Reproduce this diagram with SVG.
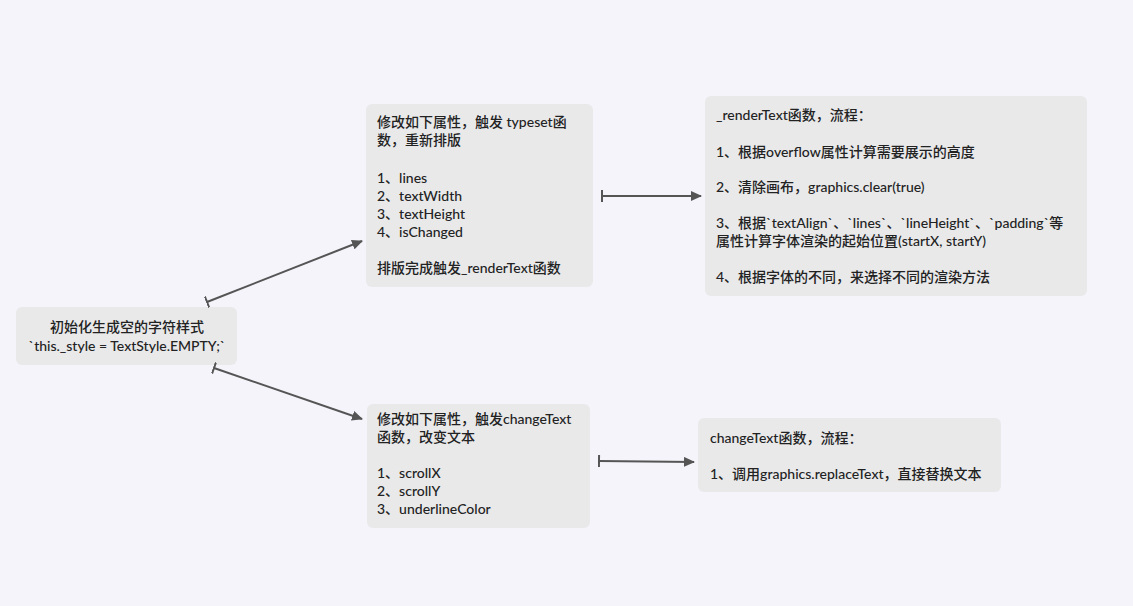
<svg xmlns="http://www.w3.org/2000/svg" width="1133" height="606" viewBox="0 0 1133 606">
<style>
.bg{fill:#f4f4fa}
.box{fill:#e9e9ea}
text{font-family:"Lato","Noto Sans CJK SC",sans-serif;font-size:14px;font-weight:500;fill:#222}
.c{text-anchor:middle}
.conn line{stroke:#555;stroke-width:2;fill:none;marker-end:url(#ah);marker-start:url(#tb)}
</style>
<defs>
<marker id="ah" markerWidth="12" markerHeight="10" refX="10" refY="5" orient="auto" markerUnits="userSpaceOnUse">
<path d="M0,0 L11,5 L0,10 Z" fill="#555"/>
</marker>
<marker id="tb" markerWidth="4" markerHeight="12" refX="1" refY="6" orient="auto" markerUnits="userSpaceOnUse">
<line x1="1" y1="0" x2="1" y2="12" stroke="#555" stroke-width="2"/>
</marker>
</defs>
<rect class="bg" x="0" y="0" width="1133" height="606"/>
<g id="node-init">
<rect class="box" x="16" y="307" width="221" height="58" rx="6"/>
<text class="c" x="127" y="332">初始化生成空的字符样式</text>
<text class="c" x="127" y="351">`this._style = TextStyle.EMPTY;`</text>
</g>
<g id="node-typeset">
<rect class="box" x="366" y="104" width="227" height="183" rx="6"/>
<text x="377" y="127">修改如下属性，触发 typeset函</text>
<text x="377" y="145">数，重新排版</text>
<text x="377" y="183">1、lines</text>
<text x="377" y="201">2、textWidth</text>
<text x="377" y="219">3、textHeight</text>
<text x="377" y="237">4、isChanged</text>
<text x="377" y="273">排版完成触发_renderText函数</text>
</g>
<g id="node-render">
<rect class="box" x="705" y="96" width="382" height="200" rx="6"/>
<text x="716" y="120">_renderText函数，流程：</text>
<text x="716" y="157">1、根据overflow属性计算需要展示的高度</text>
<text x="716" y="192">2、清除画布，graphics.clear(true)</text>
<text x="716" y="228">3、根据`textAlign`、`lines`、`lineHeight`、`padding`等</text>
<text x="716" y="246">属性计算字体渲染的起始位置(startX, startY)</text>
<text x="716" y="282">4、根据字体的不同，来选择不同的渲染方法</text>
</g>
<g id="node-change">
<rect class="box" x="367" y="404" width="223" height="124" rx="6"/>
<text x="377" y="424">修改如下属性，触发changeText</text>
<text x="377" y="442">函数，改变文本</text>
<text x="377" y="478">1、scrollX</text>
<text x="377" y="496">2、scrollY</text>
<text x="377" y="514">3、underlineColor</text>
</g>
<g id="node-changetext">
<rect class="box" x="698" y="418" width="303" height="74" rx="6"/>
<text x="710" y="443">changeText函数，流程：</text>
<text x="710" y="479">1、调用graphics.replaceText，直接替换文本</text>
</g>
<g id="connectors" class="conn">
<line x1="207" y1="302" x2="362" y2="241"/>
<line x1="214" y1="368" x2="362" y2="419"/>
<line x1="602" y1="196" x2="701" y2="196"/>
<line x1="599" y1="461" x2="694" y2="462"/>
</g>
</svg>
